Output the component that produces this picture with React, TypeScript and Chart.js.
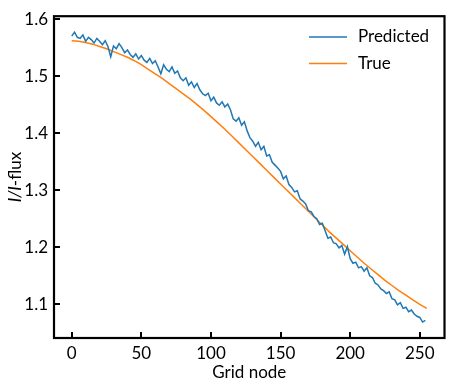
import React, { useEffect, useRef } from "react";
import { Chart, registerables } from "chart.js";

Chart.register(...registerables);

// Predicted flux, sampled every PRED_STEP grid nodes (0, 2, 4, ... 254)
const PRED_STEP = 2;
const predicted = [
  1.570, 1.577, 1.568, 1.566, 1.572, 1.561, 1.568, 1.564, 1.558, 1.566,
  1.561, 1.555, 1.562, 1.552, 1.534, 1.553, 1.548, 1.557, 1.550, 1.541,
  1.546, 1.538, 1.533, 1.539, 1.530, 1.536, 1.528, 1.524, 1.531, 1.522,
  1.527, 1.516, 1.504, 1.520, 1.512, 1.508, 1.516, 1.505, 1.509, 1.497,
  1.492, 1.497, 1.484, 1.490, 1.480, 1.487, 1.476, 1.469, 1.466, 1.470,
  1.457, 1.463, 1.453, 1.449, 1.455, 1.446, 1.451, 1.441, 1.425, 1.421,
  1.427, 1.414, 1.420, 1.404, 1.392, 1.386, 1.377, 1.384, 1.371, 1.377,
  1.360, 1.362, 1.349, 1.344, 1.339, 1.333, 1.320, 1.325, 1.310, 1.305,
  1.297, 1.299, 1.285, 1.281, 1.276, 1.264, 1.262, 1.254, 1.250, 1.240,
  1.242, 1.229, 1.216, 1.218, 1.208, 1.206, 1.199, 1.203, 1.188, 1.201,
  1.180, 1.172, 1.174, 1.164, 1.166, 1.158, 1.164, 1.150, 1.147, 1.137,
  1.134, 1.127, 1.124, 1.119, 1.122, 1.110, 1.108, 1.099, 1.103, 1.093,
  1.095, 1.087, 1.090, 1.083, 1.079, 1.077, 1.069, 1.072,
];

// True flux, sampled every TRUE_STEP grid nodes (0, 5, ... 255)
const TRUE_STEP = 5;
const trueFlux = [
  1.562, 1.561, 1.559, 1.556, 1.552, 1.548, 1.543, 1.538, 1.533, 1.527,
  1.520, 1.512, 1.504, 1.496, 1.487, 1.478, 1.469, 1.460, 1.450, 1.440,
  1.429, 1.418, 1.407, 1.395, 1.383, 1.371, 1.359, 1.347, 1.335, 1.323,
  1.311, 1.299, 1.287, 1.275, 1.263, 1.251, 1.239, 1.227, 1.216, 1.205,
  1.194, 1.183, 1.172, 1.162, 1.152, 1.142, 1.133, 1.124, 1.116, 1.108,
  1.100, 1.093,
];

const xTicks = [0, 50, 100, 150, 200, 250];
const yTicks = [1.1, 1.2, 1.3, 1.4, 1.5, 1.6];
const seriesNames = ["Predicted", "True"];
const seriesColors = ["#1f77b4", "#ff7f0e"];
const xTitle = "Grid node";
const yTitleItalic = "I/I";
const yTitleRest = "-flux";

const FONT = "Lato, 'DejaVu Sans', sans-serif";
const FS = 17;

const decorPlugin = {
  id: "decor",
  afterDraw(chart: any) {
    const ctx = chart.ctx as CanvasRenderingContext2D;
    const { left, right, top, bottom } = chart.chartArea;
    const xs = chart.scales.x;
    const ys = chart.scales.y;
    ctx.save();
    // inward ticks
    ctx.strokeStyle = "#000";
    ctx.lineWidth = 2;
    ctx.beginPath();
    xTicks.forEach((v) => {
      const px = Math.round(xs.getPixelForValue(v));
      ctx.moveTo(px, bottom);
      ctx.lineTo(px, bottom - 6);
    });
    yTicks.forEach((v) => {
      const py = Math.round(ys.getPixelForValue(v));
      ctx.moveTo(left, py);
      ctx.lineTo(left + 6, py);
    });
    ctx.stroke();
    // frame
    ctx.lineWidth = 2.2;
    ctx.strokeRect(left, top, right - left, bottom - top);

    // legend
    const lx0 = 309, lx1 = 347, tx = 358;
    const ly = [37, 63.5];
    ctx.font = `${FS}px ${FONT}`;
    ctx.textBaseline = "middle";
    ctx.textAlign = "left";
    seriesNames.forEach((name, i) => {
      ctx.strokeStyle = seriesColors[i];
      ctx.lineWidth = 1.6;
      ctx.beginPath();
      ctx.moveTo(lx0, ly[i]);
      ctx.lineTo(lx1, ly[i]);
      ctx.stroke();
      ctx.fillStyle = "#000";
      ctx.fillText(name, tx, ly[i]);
    });

    // x title
    ctx.textAlign = "center";
    ctx.fillStyle = "#000";
    ctx.fillText(xTitle, (left + right) / 2, 373);

    // y title (rotated, mixed italics)
    ctx.translate(16, (top + bottom) / 2);
    ctx.rotate(-Math.PI / 2);
    ctx.textAlign = "left";
    ctx.font = `italic ${FS}px ${FONT}`;
    const w1 = ctx.measureText(yTitleItalic).width;
    ctx.font = `${FS}px ${FONT}`;
    const w2 = ctx.measureText(yTitleRest).width;
    const start = -(w1 + w2) / 2;
    ctx.font = `italic ${FS}px ${FONT}`;
    ctx.fillText(yTitleItalic, start, 0);
    ctx.font = `${FS}px ${FONT}`;
    ctx.fillText(yTitleRest, start + w1, 0);
    ctx.restore();
  },
};

export default function App() {
  const ref = useRef<HTMLCanvasElement>(null);
  useEffect(() => {
    if (!ref.current) return;
    const chart = new Chart(ref.current, {
      type: "line",
      data: {
        datasets: [
          {
            label: seriesNames[0],
            data: predicted.map((v, i) => ({ x: i * PRED_STEP, y: v })),
            borderColor: seriesColors[0],
            borderWidth: 1.5,
            pointRadius: 0,
            tension: 0,
          },
          {
            label: seriesNames[1],
            data: trueFlux.map((v, i) => ({ x: i * TRUE_STEP, y: v })),
            borderColor: seriesColors[1],
            borderWidth: 1.5,
            pointRadius: 0,
            tension: 0,
          },
        ],
      },
      options: {
        animation: false,
        responsive: false,
        devicePixelRatio: 1,
        layout: { padding: { left: 0, right: 7.5, top: 12, bottom: 0 } },
        plugins: { legend: { display: false }, tooltip: { enabled: false } },
        scales: {
          x: {
            type: "linear",
            min: -12.75,
            max: 267.75,
            grid: { display: false, drawTicks: false },
            border: { display: false },
            afterBuildTicks: (s: any) => {
              s.ticks = xTicks.map((v) => ({ value: v }));
            },
            afterFit: (s: any) => {
              s.height = 52;
            },
            ticks: {
              autoSkip: false,
              maxRotation: 0,
              padding: 5,
              color: "#000",
              font: { family: FONT, size: FS },
              callback: (v: any) => String(v),
            },
          },
          y: {
            type: "linear",
            min: 1.041,
            max: 1.605,
            grid: { display: false, drawTicks: false },
            border: { display: false },
            afterBuildTicks: (s: any) => {
              s.ticks = yTicks.map((v) => ({ value: v }));
            },
            afterFit: (s: any) => {
              s.width = 54;
            },
            ticks: {
              autoSkip: false,
              padding: 6,
              color: "#000",
              font: { family: FONT, size: FS },
              callback: (v: any) => Number(v).toFixed(1),
            },
          },
        },
      },
      plugins: [decorPlugin],
    });
    return () => chart.destroy();
  }, []);
  return (
    <div style={{ position: "fixed", left: 0, top: 0, width: 452, height: 390, background: "#fff" }}>
      <canvas ref={ref} width={452} height={390} />
    </div>
  );
}
